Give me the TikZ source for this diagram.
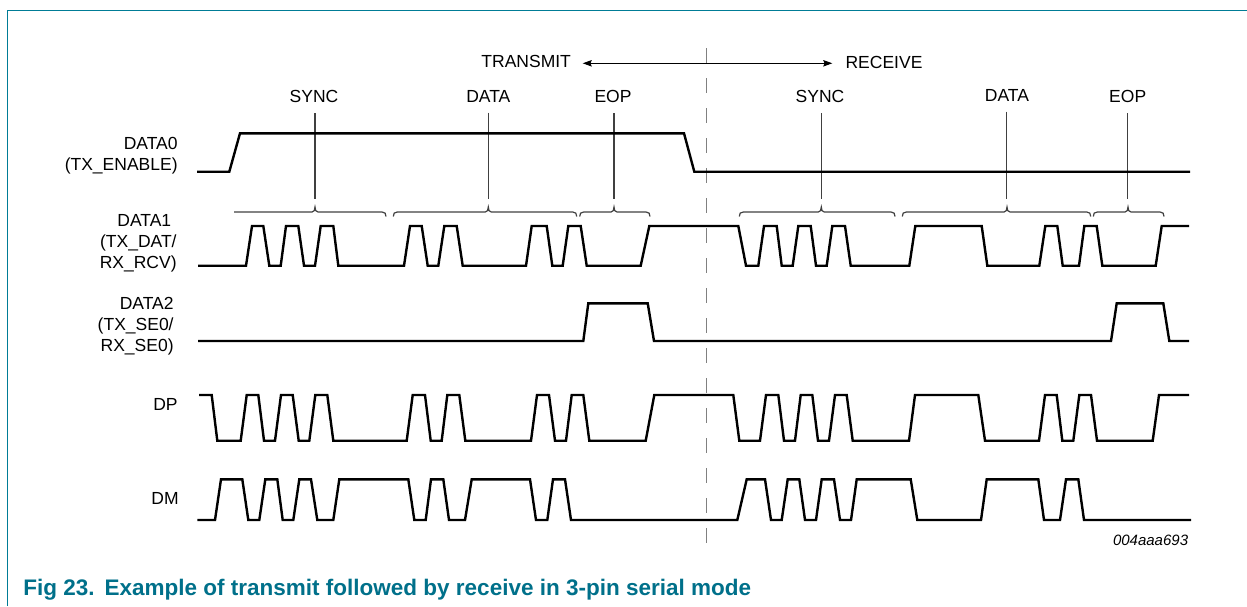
\documentclass[tikz,border=0pt]{standalone}
\usepackage{fontspec}
\usepackage{xcolor}
\usetikzlibrary{arrows.meta,positioning}
\setmainfont{Liberation Sans}
\definecolor{frameteal}{HTML}{007C96}
\definecolor{captionteal}{HTML}{00708A}
% one group bracket over a signal: left end, tip, right end
\newcommand{\wavebrace}[3]{
    \draw[leader] (#1,216.5) .. controls (#1,213.5) and (#1+1,212) .. (#1+4,212) -- (#2-3,212)
        .. controls (#2-1,212) and (#2,210) .. (#2,207) .. controls (#2,210) and (#2+1,212) .. (#2+3,212)
        -- (#3-4,212) .. controls (#3-1,212) and (#3,213.5) .. (#3,216.5);
}

\begin{document}
\begin{tikzpicture}[x=0.5pt,y=-0.5pt,
    wave/.style={line width=1.2pt,black},
    leader/.style={line width=0.6pt,black!75},
    divider/.style={line width=0.7pt,black!50,dash pattern=on 7.5pt off 7.5pt},
    signame/.style={inner sep=0pt,anchor=east,align=right,font=\fontsize{8.75}{10.5}\selectfont},
    groupname/.style={inner sep=0pt,outer ysep=5.3pt,font=\fontsize{8.75}{10.5}\selectfont},
    dirname/.style={inner sep=0pt,font=\fontsize{8.75}{10.5}\selectfont}]
    \useasboundingbox (0,0) rectangle (1247,606);

    % frame and caption
    \draw[frameteal,line width=0.8pt] (7.3,606) -- (7.3,10.3) -- (1247,10.3);
    \node[anchor=west,inner sep=0pt,text=captionteal,font=\bfseries\fontsize{11.25}{13}\selectfont] (caption) at (23,590)
        {Fig 23.\hspace{5pt}Example of transmit followed by receive in 3-pin serial mode};
    \node[inner sep=0pt,anchor=east,font=\itshape\fontsize{7.5}{9}\selectfont] (docnum) at (1188.5,540) {004aaa693};

    \coordinate (dividertop) at (706.7,48.3);
    \coordinate (dividerbot) at (706.7,546);
    \draw[divider] (dividertop) -- (dividerbot);

    % direction arrow
    \node[dirname] (transmit) at (526.2,61) {TRANSMIT};
    \node[dirname] (receive) at (884,62.3) {RECEIVE};
    \coordinate (txend) at (582.7,63.3);
    \coordinate (rxend) at (832.3,63.3);
    \draw[line width=0.5pt,{Stealth[length=4.5pt,width=3.2pt,inset=0.6pt]}-{Stealth[length=4.5pt,width=3.2pt,inset=0.6pt]}] (txend) -- (rxend);

    % signal names
    \node[signame] (data0) at (178,155.5) {DATA0\\(TX\_ENABLE)};
    \node[signame] (data1) at (177,243.5) {DATA1\hspace*{2.7pt}\\(TX\_DAT/\\RX\_RCV)};
    \node[signame] (data2) at (174,326) {DATA2\\(TX\_SE0/\\RX\_SE0)};
    \node[signame] (dp) at (178,404) {DP};
    \node[signame] (dm) at (179,498) {DM};

    % group names and leaders
    \node[groupname] (sync1) at (314,96.5) {SYNC};
    \node[groupname] (pay1) at (488.3,96) {DATA};
    \node[groupname] (eop1) at (613,96.5) {EOP};
    \node[groupname] (sync2) at (820,96.5) {SYNC};
    \node[groupname] (pay2) at (1007,95) {DATA};
    \node[groupname] (eop2) at (1127.7,96.5) {EOP};
    \coordinate (tip1) at (315,199);
    \coordinate (tip2) at (488.3,199);
    \coordinate (tip3) at (614,199);
    \coordinate (tip4) at (821.3,199);
    \coordinate (tip5) at (1006.7,199);
    \coordinate (tip6) at (1127.7,199);
    \foreach \n/\t in {sync1/tip1,pay1/tip2,eop1/tip3,sync2/tip4,pay2/tip5,eop2/tip6}
        \draw[leader] (\n.south -| \t) -- (\t);

    % brackets
    \draw[leader] (234,212) -- (312,212) .. controls (314,212) and (315,210) .. (315,207)
        .. controls (315,210) and (316,212) .. (318,212) -- (382,212) .. controls (385,212) and (386,213.5) .. (386,216.5);
    \wavebrace{393.3}{488.3}{576.7}
    \wavebrace{579.7}{614}{650}
    \wavebrace{739.3}{821.3}{895}
    \wavebrace{902.3}{1007}{1090.7}
    \wavebrace{1093.3}{1128}{1164}

    % DATA0
    \draw[wave] (197,171.7) -- (229.3,171.7) -- (240,133.3) -- (684,133.3) -- (694.3,171.7) -- (1190,171.7);

    % DATA1
    \def\yh{226} \def\yl{265.7}
    \draw[wave] (198,\yl) foreach \a/\b/\c/\d in {246/252/263.3/269.3,280.7/286/298.3/304,315/320.7/333.3/338.3,
        404/410/421.7/427.7,438.3/444.3/456.7/462.7,526/531.7/546.7/552.3,562.7/568.3/580.7/586.7,
        640.7/649.3/738.3/746,758.3/764/776.7/781.7,792.7/798.3/810.7/816,826.7/832.3/845/850.7,
        909.3/915.3/981.7/987.3,1039.3/1045.3/1057.3/1062.7,1079/1084.3/1096.7/1102.3}
        { -- (\a,\yl) -- (\b,\yh) -- (\c,\yh) -- (\d,\yl) } -- (1155.7,\yl) -- (1161.7,\yh) -- (1189,\yh);

    % DATA2
    \def\yh{303.3} \def\yl{341}
    \draw[wave] (198,\yl) foreach \a/\b/\c/\d in {583.3/588.3/647.7/654,1111/1116.7/1163.3/1169.3}
        { -- (\a,\yl) -- (\b,\yh) -- (\c,\yh) -- (\d,\yl) } -- (1189,\yl);

    % DP
    \def\yh{395} \def\yl{440.7}
    \draw[wave] (199,\yh) -- (211.7,\yh) -- (217.3,\yl) foreach \a/\b/\c/\d in {240.7/246.7/258.3/264,275/281/292.7/298.7,309.3/315.3/327.3/333.3,
        406.7/412.7/425/430.7,441.7/447.3/459.3/465.3,531/537/549/555,566/571.7/583.3/589.3,
        645.7/654.3/733.3/739.3,760/766/778.3/784,795/800.7/812.3/818,829/835/846.7/852.7,
        909/915/978.3/985,1039/1045/1056.7/1062.3,1073.3/1079.3/1091/1097}
        { -- (\a,\yl) -- (\b,\yh) -- (\c,\yh) -- (\d,\yl) } -- (1152.7,\yl) -- (1159,\yh) -- (1189,\yh);

    % DM
    \def\yh{479.3} \def\yl{520}
    \draw[wave] (197.3,\yl) foreach \a/\b/\c/\d in {215/221/242.3/248.3,259.3/265.3/277.3/282.7,293.3/299.3/311/317.3,
        333.3/339.3/408.3/414.3,425.7/431/443.3/449,465/471.7/530/536,547.3/553/565/571,
        737.3/746.7/765/771,781.7/787.7/799.3/805,816/821.7/834/840,851/856.7/910.7/917.3,
        981/986.7/1038.3/1044,1060/1066/1078.3/1084}
        { -- (\a,\yl) -- (\b,\yh) -- (\c,\yh) -- (\d,\yl) } -- (1191,\yl);
\end{tikzpicture}
\end{document}
